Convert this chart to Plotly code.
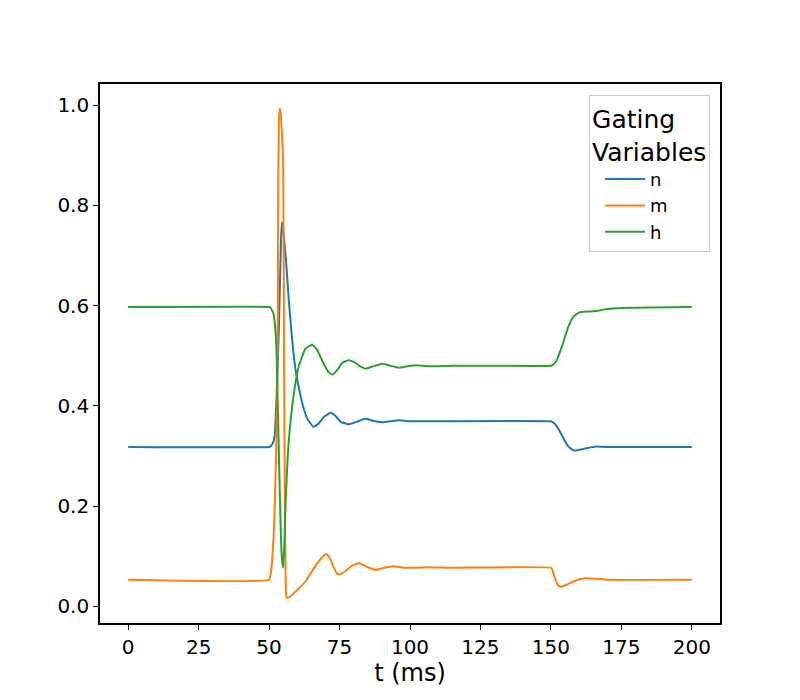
import plotly.graph_objects as go

# --- gating variables (t in ms) ---
t_n = [0, 50, 50.5, 51.3, 52.0, 52.5, 53.0, 53.5, 54.0, 54.3, 54.6, 55.2, 56.0, 57.0, 58.2,
       59.3, 60.5, 62.0, 63.5, 65.7, 67.5, 69.5, 71.8, 73.5, 75.5, 78.2, 81.0, 84.2, 87.0,
       90.3, 93.0, 96.2, 100, 105, 150, 150.5, 152, 154, 156, 157.9, 160, 163, 166, 170, 200]
n_vals = [0.318, 0.318, 0.319, 0.325, 0.340, 0.400, 0.470, 0.560, 0.680, 0.740, 0.767, 0.740,
          0.690, 0.610, 0.531, 0.475, 0.438, 0.400, 0.375, 0.358, 0.364, 0.378, 0.386, 0.380,
          0.368, 0.363, 0.368, 0.374, 0.370, 0.367, 0.369, 0.371, 0.369, 0.369, 0.369, 0.368,
          0.360, 0.340, 0.320, 0.311, 0.312, 0.316, 0.319, 0.318, 0.318]

t_m = [0, 50, 50.5, 51.1, 51.6, 52.0, 52.6, 52.9, 53.1, 53.25, 53.5, 53.8, 54.1, 54.5, 55.0,
       55.3, 55.6, 55.9, 56.2, 57, 58, 59.3, 61, 63, 65.2, 67, 69, 70.3, 71.5, 73, 74, 75.2,
       77, 79.5, 82, 85, 87.9, 91, 94, 98, 102, 106, 115, 150, 150.5, 151.5, 152.5, 153.5,
       156, 159, 162, 166, 170, 200]
m_vals = [0.053, 0.053, 0.062, 0.092, 0.140, 0.198, 0.330, 0.450, 0.600, 0.850, 0.970, 0.993,
          0.985, 0.950, 0.887, 0.500, 0.200, 0.050, 0.017, 0.018, 0.022, 0.029, 0.038, 0.050,
          0.070, 0.085, 0.099, 0.104, 0.097, 0.077, 0.066, 0.064, 0.070, 0.081, 0.086, 0.078,
          0.073, 0.077, 0.080, 0.077, 0.077, 0.078, 0.077, 0.077, 0.073, 0.055, 0.042, 0.039,
          0.044, 0.052, 0.056, 0.055, 0.053, 0.053]

t_h = [0, 50, 50.5, 51.5, 52.2, 52.7, 53.0, 53.5, 54.0, 54.5, 55.0, 55.4, 55.8, 57.0, 58.8,
       60.5, 62.9, 65.3, 67, 69, 71, 72.5, 74, 76, 78.3, 80.5, 82.5, 84.3, 86.5, 90.3, 93,
       96.2, 99, 102.4, 106, 110, 115, 150, 150.5, 152, 154, 156, 158, 160, 163, 166, 170,
       175, 185, 200]
h_vals = [0.597, 0.597, 0.596, 0.585, 0.554, 0.500, 0.420, 0.300, 0.180, 0.100, 0.077, 0.120,
          0.198, 0.331, 0.425, 0.478, 0.514, 0.522, 0.512, 0.488, 0.468, 0.462, 0.470, 0.486,
          0.491, 0.486, 0.478, 0.474, 0.478, 0.484, 0.480, 0.476, 0.479, 0.481, 0.479, 0.479,
          0.480, 0.480, 0.481, 0.490, 0.520, 0.555, 0.578, 0.586, 0.588, 0.589, 0.593, 0.595,
          0.596, 0.597]

x_ticks = [0, 25, 50, 75, 100, 125, 150, 175, 200]
y_ticks = [0.0, 0.2, 0.4, 0.6, 0.8, 1.0]

series = [("n", t_n, n_vals, "#1f77b4"),
          ("m", t_m, m_vals, "#ff7f0e"),
          ("h", t_h, h_vals, "#2ca02c")]

fig = go.Figure()
for name, t, v, col in series:
    fig.add_trace(go.Scatter(x=t, y=v, mode="lines", name=name,
                             line=dict(color=col, width=2, shape="spline", smoothing=0.4)))

axis_style = dict(showline=True, linecolor="black", linewidth=1.6, mirror=True,
                  ticks="outside", ticklen=5, tickwidth=1.3, tickcolor="black",
                  showgrid=False, zeroline=False,
                  tickfont=dict(family="DejaVu Sans", size=20, color="black"))

fig.update_xaxes(range=[-10, 210], tickvals=x_ticks,
                 title=dict(text="t (ms)", font=dict(family="DejaVu Sans", size=24, color="black"),
                            standoff=2),
                 **axis_style)
fig.update_yaxes(range=[-0.0333, 1.042], tickvals=y_ticks, tickformat=".1f", **axis_style)

# page body shifts the plot by ~8px, so margins are trimmed to match
fig.update_layout(
    width=800, height=700,
    margin=dict(l=92, r=88, t=76, b=85),
    paper_bgcolor="white", plot_bgcolor="white",
    font=dict(family="DejaVu Sans", color="black"),
    showlegend=True,
    legend=dict(
        title=dict(text="Gating<br>Variables", side="top",
                   font=dict(family="DejaVu Sans", size=25, color="black")),
        x=0.984, y=0.98, xanchor="right", yanchor="top",
        bgcolor="rgba(255,255,255,0.8)", bordercolor="#cccccc", borderwidth=1,
        font=dict(family="DejaVu Sans", size=18, color="black"),
        itemwidth=40, tracegroupgap=0, indentation=10,
    ),
)

fig.write_html("out.html")
